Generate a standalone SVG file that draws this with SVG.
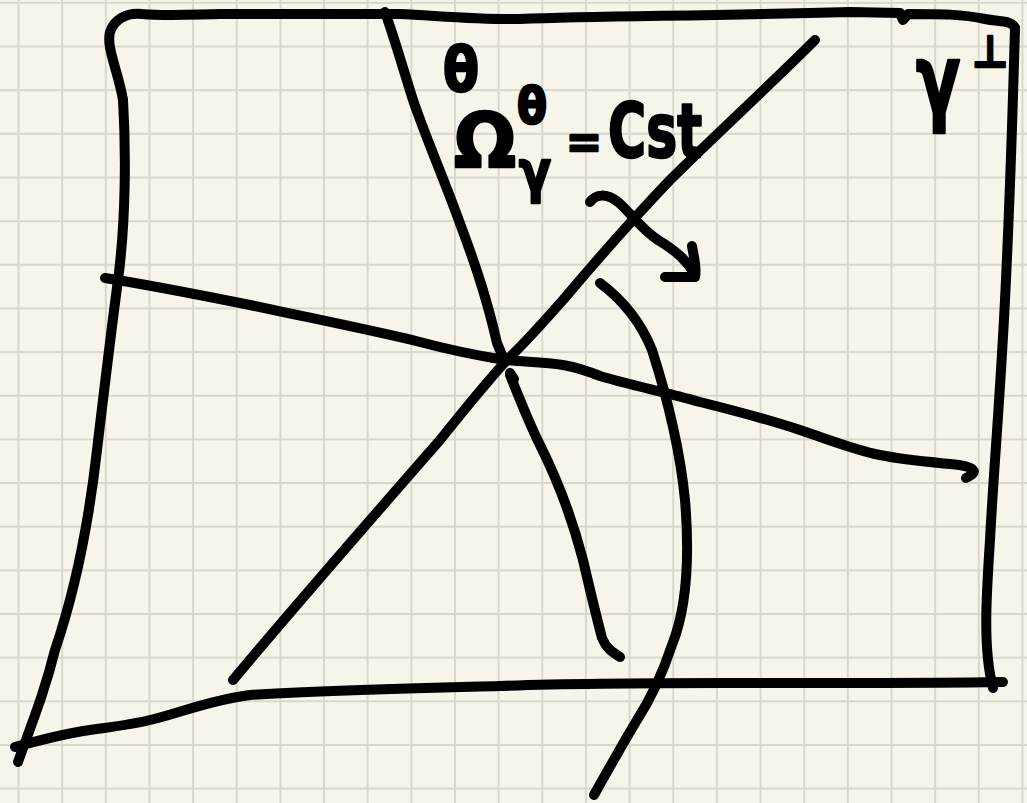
<svg xmlns="http://www.w3.org/2000/svg" width="1027" height="803" viewBox="0 0 1027 803">
<defs>
<pattern id="grid" patternUnits="userSpaceOnUse" x="17.5" y="1.9" width="43.65" height="43.65">
<path d="M1 0 V43.65 M0 1 H43.65" stroke="#d7d8cb" stroke-width="2" fill="none"/>
</pattern>
<style>
.ink{fill:none;stroke:#000;stroke-width:10;stroke-linecap:round;stroke-linejoin:round}
.hw{font-family:"DejaVu Sans",sans-serif;font-weight:bold;fill:#000;stroke:#000;stroke-width:2.5;stroke-linejoin:round}
</style>
</defs>
<rect width="1027" height="803" fill="#f7f5ea"/>
<rect width="1027" height="803" fill="url(#grid)"/>
<g id="frame">
<path class="ink" d="M123 100 C118 70 106 48 110 32 C114 20 126 12 142 14 C165 16 180 15 220 14 L400 14 C440 16 480 20 520 19 C600 16 700 16 850 12 L900 13 L903 20 L908 14 C940 14 962 14 985 19 C1000 22 1012 20 1015 28"/>
<path class="ink" d="M1015 28 C1013 100 1010 200 1005 300 C1000 400 993 480 990 540 C986 600 983 650 993 688"/>
<path class="ink" d="M123 100 C126 150 126 220 118 280 C110 340 103 400 97 450 C88 530 72 600 55 650 C45 690 35 715 18 762"/>
<path class="ink" d="M15 747 C40 740 60 735 83 731 C110 727 130 725 150 720 C180 713 210 700 250 695 C320 690 420 688 500 686 C600 682 700 683 800 683 C880 683 950 683 1003 682"/>
</g>
<g id="lines">
<path class="ink" d="M385 12 C395 40 405 75 413 100 C425 135 440 170 455 210 C470 250 485 290 497 343 L505 362"/>
<path class="ink" d="M510 375 C520 400 530 425 540 445 C555 475 570 510 583 560 C590 590 596 615 602 638 C606 648 612 652 620 657"/>
<path class="ink" d="M815 40 C770 85 710 140 670 180 C630 222 595 262 563 300 C545 320 530 338 505 362 C480 390 460 415 440 440 C370 520 300 600 233 680"/>
<path class="ink" d="M105 278 C150 285 200 295 250 305 C320 320 380 332 420 342 C450 350 480 356 505 360 C525 362 545 362 563 365 C580 368 590 372 600 376 C630 385 665 392 700 402 C740 412 770 420 800 430 C830 440 855 450 880 455 C905 460 930 462 950 464 C975 466 980 472 966 478"/>
<path class="ink" d="M510 373 L514 379"/>
<path class="ink" d="M600 283 C620 298 640 320 652 350 C668 400 680 450 685 500 C690 560 686 610 672 645 C662 675 650 700 637 720 C622 745 608 770 594 795"/>
</g>
<g id="arrow">
<path class="ink" d="M590 202 C596 194 606 193 618 202 C630 212 640 228 658 240 C678 252 688 262 695 275"/>
<path class="ink" d="M692 246 C694 258 697 268 695 277 L665 277"/>
</g>
<g id="labels">
<text class="hw" x="443" y="91" font-size="62" textLength="36" lengthAdjust="spacingAndGlyphs">θ</text>
<text class="hw" x="454" y="167" font-size="74" textLength="62" lengthAdjust="spacingAndGlyphs">Ω</text>
<text class="hw" x="517" y="123" font-size="50" textLength="30" lengthAdjust="spacingAndGlyphs">θ</text>
<text class="hw" x="519" y="191" font-size="56" textLength="32" lengthAdjust="spacingAndGlyphs">γ</text>
<text class="hw" x="566" y="158" font-size="46" textLength="36" lengthAdjust="spacingAndGlyphs">=</text>
<text class="hw" x="608" y="157" font-size="75" textLength="94" lengthAdjust="spacingAndGlyphs">Cst</text>
<text class="hw" transform="translate(916 113) scale(0.68 1)" x="0" y="0" font-size="96">γ</text>
<text class="hw" x="972" y="67" font-size="44" textLength="36" lengthAdjust="spacingAndGlyphs">⊥</text>
</g>
</svg>
